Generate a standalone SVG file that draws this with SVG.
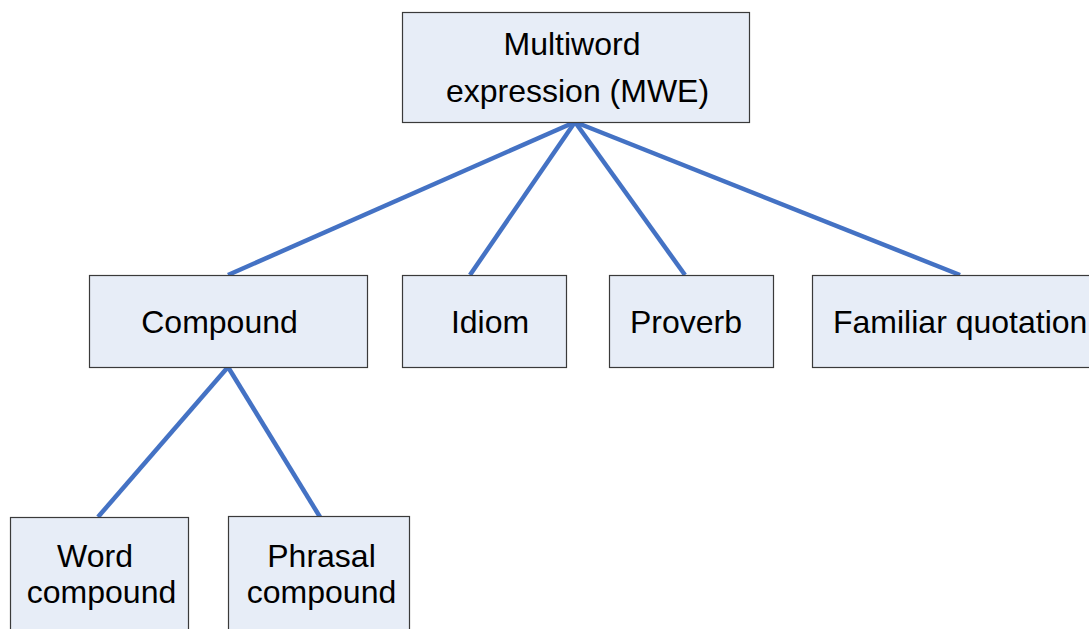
<svg xmlns="http://www.w3.org/2000/svg" width="1089" height="629" viewBox="0 0 1089 629">
<style>
.box{fill:#E7EDF7;stroke:#3a3a3a;stroke-width:1.2}
.t{font-family:"Liberation Sans",Arial,sans-serif;font-size:32px;fill:#000;text-anchor:middle}
.c{stroke:#4472C4;stroke-width:4.5;fill:none;stroke-linecap:butt}
</style>
<rect width="1089" height="629" fill="#fff"/>
<g id="connectors">
<line class="c" x1="575" y1="122" x2="228" y2="275"/>
<line class="c" x1="575" y1="122" x2="470" y2="275"/>
<line class="c" x1="575" y1="122" x2="685" y2="275"/>
<line class="c" x1="575" y1="122" x2="960" y2="275"/>
<line class="c" x1="228" y1="367" x2="98" y2="517"/>
<line class="c" x1="228" y1="367" x2="320" y2="517"/>
</g>
<g id="mwe">
<rect class="box" x="402.5" y="12.5" width="347" height="110"/>
<text class="t" x="572" y="55">Multiword</text>
<text class="t" x="577.5" y="102">expression (MWE)</text>
</g>
<g id="compound">
<rect class="box" x="89.5" y="275.5" width="278" height="92"/>
<text class="t" x="219.5" y="333">Compound</text>
</g>
<g id="idiom">
<rect class="box" x="402.5" y="275.5" width="164" height="92"/>
<text class="t" x="490" y="333">Idiom</text>
</g>
<g id="proverb">
<rect class="box" x="609.5" y="275.5" width="164" height="92"/>
<text class="t" x="686" y="333">Proverb</text>
</g>
<g id="familiar">
<rect class="box" x="812.5" y="275.5" width="290" height="92"/>
<text class="t" x="833" y="333" style="text-anchor:start">Familiar quotation</text>
</g>
<g id="word-compound">
<rect class="box" x="10.5" y="517.5" width="178" height="120"/>
<text class="t" x="95" y="567">Word</text>
<text class="t" x="101.5" y="603">compound</text>
</g>
<g id="phrasal-compound">
<rect class="box" x="228.5" y="516.5" width="181" height="120"/>
<text class="t" x="321.5" y="567">Phrasal</text>
<text class="t" x="321.5" y="603">compound</text>
</g>
</svg>
